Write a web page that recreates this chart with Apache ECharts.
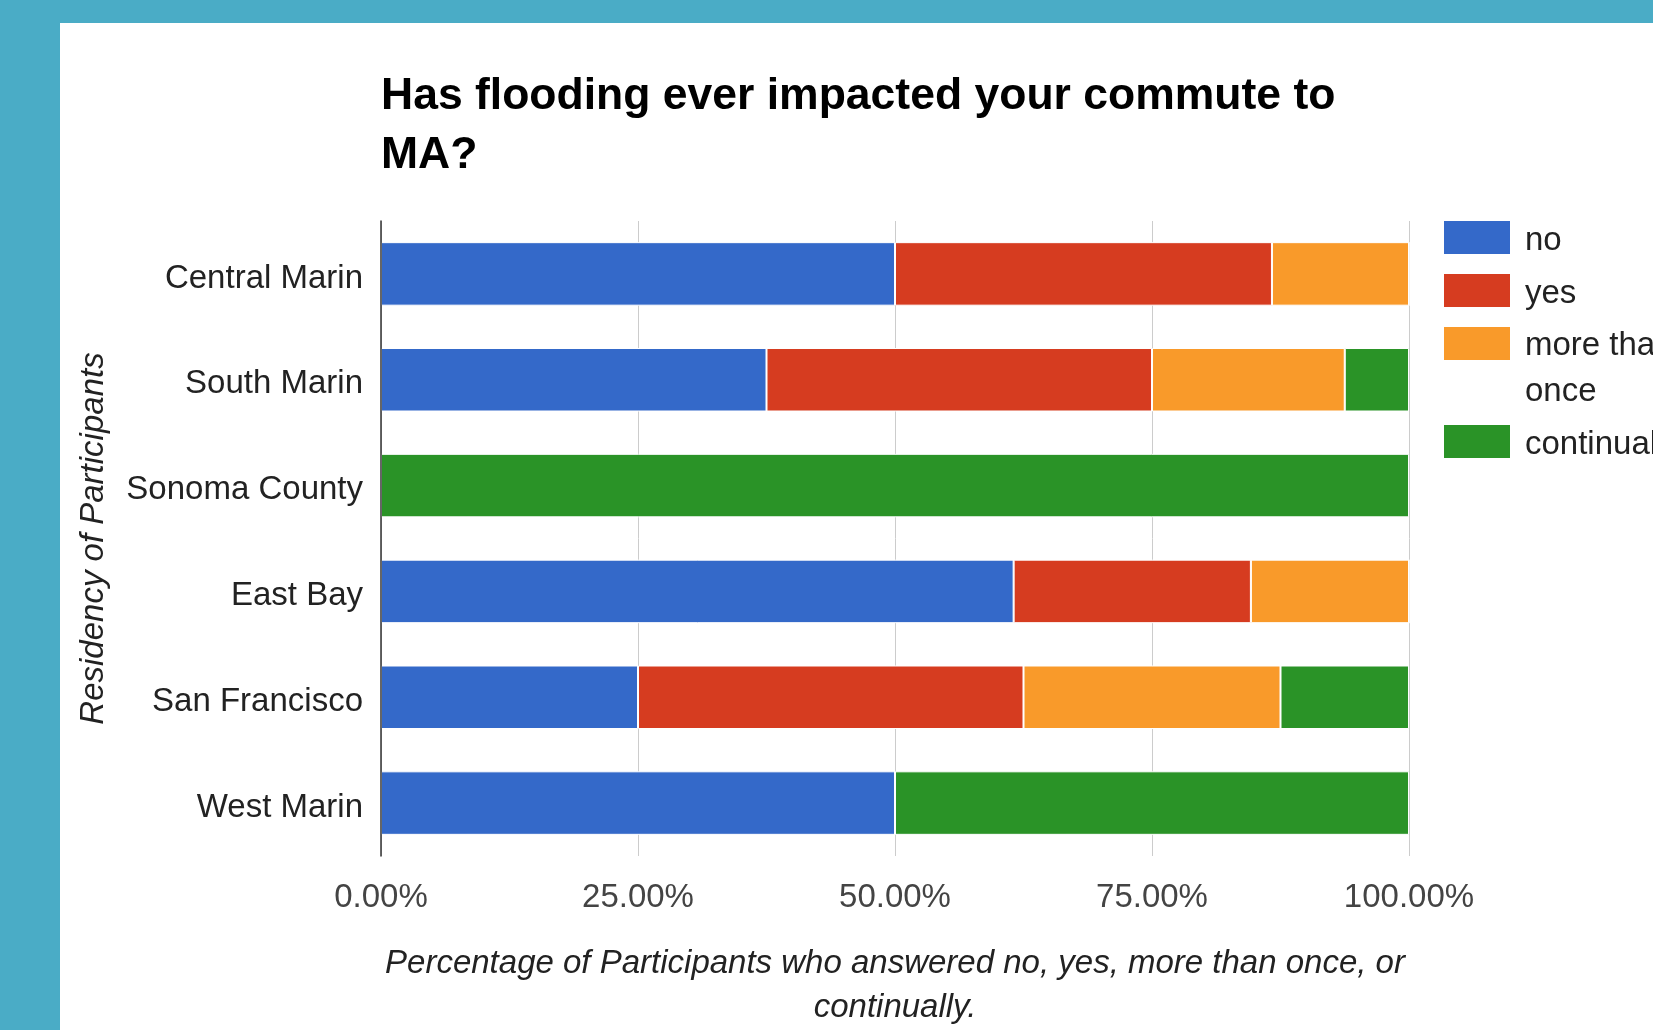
<!DOCTYPE html>
<html>
<head>
<meta charset="utf-8">
<script src="https://cdn.jsdelivr.net/npm/echarts@6/dist/echarts.min.js"></script>
<style>
  html, body { margin: 0; padding: 0; width: 1653px; height: 1030px; background: #4aacc6; overflow: hidden; }
  #panel { position: absolute; left: 60px; top: 23px; width: 1593px; height: 1007px; background: #ffffff; }
</style>
</head>
<body>
<div id="panel"></div>
<script>
// Survey: share of answers by residency (percent of participants)
const regions = ['Central Marin', 'South Marin', 'Sonoma County', 'East Bay', 'San Francisco', 'West Marin'];
const answers = ['no', 'yes', 'more than once', 'continually'];
const noValues          = [50, 37.5, 0, 61.54, 25, 50];
const yesValues         = [36.67, 37.5, 0, 23.08, 37.5, 0];
const moreThanOnce      = [13.33, 18.75, 0, 15.38, 25, 0];
const continuallyValues = [0, 6.25, 100, 0, 12.5, 50];
const tickValues = [0, 25, 50, 75, 100];

const seriesValues = [noValues, yesValues, moreThanOnce, continuallyValues];
const colors = ['#3469c9', '#d63c20', '#f99a2a', '#2a9327'];

const FONT = '"Liberation Sans", Arial, sans-serif';

const chart = echarts.init(document.getElementById('panel'), null, { renderer: 'canvas' });

// legend text sits a little below the swatch centre line
const legendRich = {
  t: { fontFamily: FONT, fontSize: 33, color: '#222', lineHeight: 33, padding: [6, 0, 0, 10] },
  t2: { fontFamily: FONT, fontSize: 33, color: '#222', lineHeight: 46, padding: [6, 0, 0, 10] },
  gap: { lineHeight: 45 }
};

const legendBase = {
  orient: 'vertical',
  left: 1384,
  padding: 0,
  itemWidth: 66,
  itemHeight: 33,
  itemGap: 14,
  icon: 'rect',
  selectedMode: false,
  itemStyle: { borderWidth: 0 },
  formatter: function (name) { return '{t|' + name + '}'; },
  textStyle: { fontFamily: FONT, fontSize: 33, color: '#222', rich: legendRich }
};

chart.setOption({
  animation: false,
  color: colors,
  title: {
    text: 'Has flooding ever impacted your commute to\nMA?',
    left: 321,
    top: 44,
    padding: 0,
    textStyle: { fontFamily: FONT, fontSize: 44.5, fontWeight: 'bold', color: '#000', lineHeight: 59 }
  },
  legend: [
    Object.assign({}, legendBase, { top: 195, data: ['no', 'yes'] }),
    // the wrapped label keeps its first line level with the swatch
    Object.assign({}, legendBase, {
      top: 258,
      data: ['more than once'],
      formatter: function () { return '{gap|}\n{t2|more than}\n{t2|once}'; }
    }),
    Object.assign({}, legendBase, { top: 399, data: ['continually'] })
  ],
  grid: { left: 321, right: 244, top: 198, bottom: 174, containLabel: false, outerBoundsMode: 'none' },
  xAxis: {
    type: 'value',
    min: tickValues[0],
    max: tickValues[tickValues.length - 1],
    interval: 25,
    axisLine: { show: false },
    axisTick: { show: false },
    splitLine: { show: true, lineStyle: { color: '#cccccc', width: 1 } },
    axisLabel: {
      margin: 25,
      fontFamily: FONT, fontSize: 33, color: '#444', lineHeight: 33,
      formatter: function (v) { return v.toFixed(2) + '%'; }
    },
    name: 'Percentage of Participants who answered no, yes, more than once, or\ncontinually.',
    nameLocation: 'middle',
    nameGap: 86,
    nameTextStyle: { fontFamily: FONT, fontSize: 33, fontStyle: 'italic', color: '#222', lineHeight: 44 }
  },
  yAxis: {
    type: 'category',
    data: regions,
    inverse: true,
    z: 3,
    axisLine: { show: true, lineStyle: { color: '#333', width: 1.5 } },
    axisTick: { show: false },
    axisLabel: {
      margin: 18, fontFamily: FONT, fontSize: 33, color: '#222',
      formatter: function (v) { return '{c|' + v + '}'; },
      rich: { c: { fontFamily: FONT, fontSize: 33, color: '#222', lineHeight: 33, padding: [9, 0, 0, 0] } }
    },
    name: 'Residency of Participants',
    nameLocation: 'middle',
    nameGap: 271,
    nameTextStyle: { fontFamily: FONT, fontSize: 33, fontStyle: 'italic', color: '#222' }
  },
  series: answers.map(function (name, i) {
    return {
      name: name,
      type: 'bar',
      stack: 'total',
      barCategoryGap: '40%',
      data: seriesValues[i],
      itemStyle: { color: colors[i], borderColor: '#ffffff', borderWidth: 1 }
    };
  })
});
</script>
</body>
</html>
